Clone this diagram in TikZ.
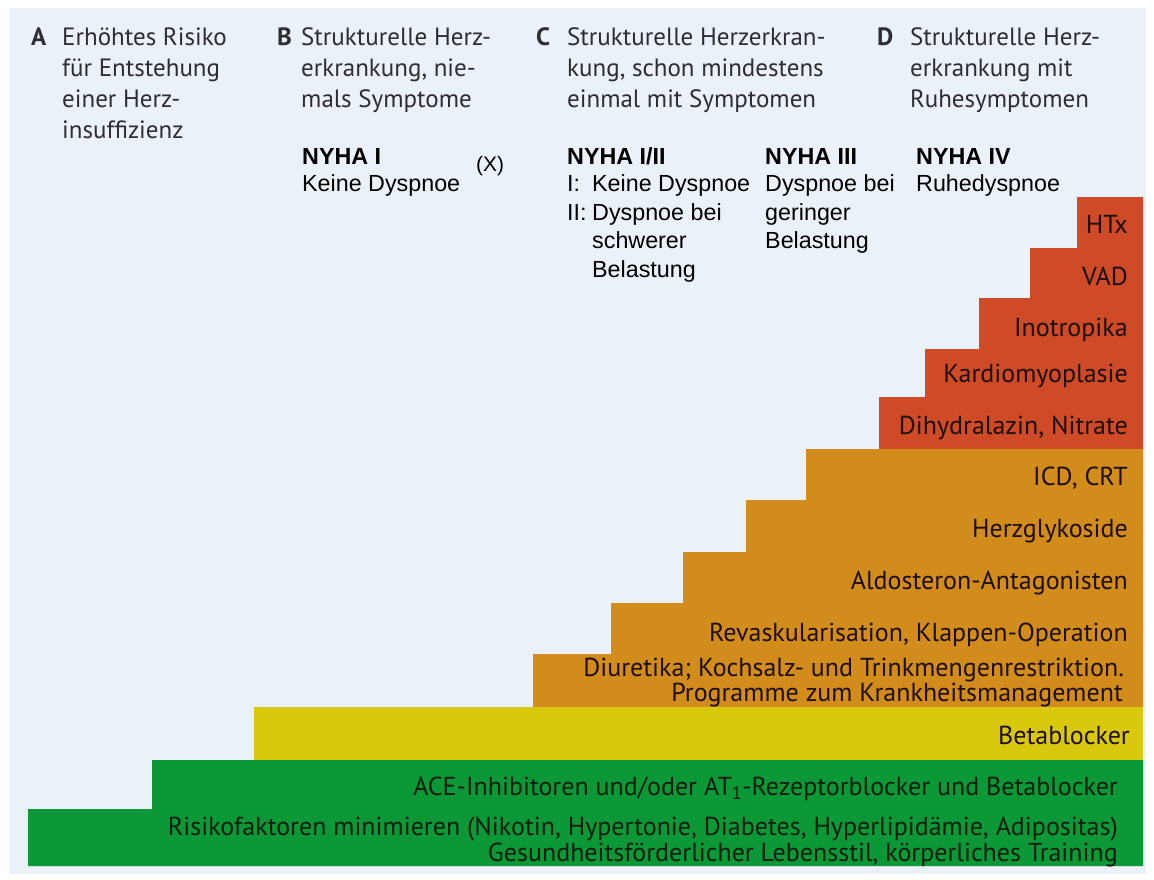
\documentclass[tikz,border=0pt]{standalone}
\usepackage{fontspec}
\setmainfont{PT Sans}
\newfontfamily\arialf{Liberation Sans}
\definecolor{bgc}{RGB}{234,241,248}
\definecolor{redc}{RGB}{207,74,38}
\definecolor{orc}{RGB}{210,140,27}
\definecolor{yelc}{RGB}{216,200,14}
\definecolor{grc}{RGB}{12,152,55}
\definecolor{hdrc}{RGB}{45,45,50}
\definecolor{txtc}{RGB}{30,15,8}
\definecolor{gtxt}{RGB}{8,30,12}
\begin{document}
\begin{tikzpicture}[x=1pt,y=-1pt,
  hdr/.style={anchor=base west, inner sep=0, font=\fontsize{25}{31}\selectfont, text=hdrc},
  lett/.style={anchor=base west, inner sep=0, font=\fontsize{25}{31}\selectfont\bfseries, text=hdrc},
  nyhab/.style={anchor=base west, inner sep=0, font=\arialf\bfseries\fontsize{23.3}{26}\selectfont, text=black},
  nyha/.style={anchor=base west, inner sep=0, font=\arialf\fontsize{23.3}{26}\selectfont, text=black},
  bar/.style={anchor=base east, inner sep=0, font=\fontsize{26}{28}\selectfont, text=txtc},
  gbar/.style={anchor=base east, inner sep=0, font=\fontsize{26}{28}\selectfont, text=gtxt}]
\useasboundingbox (0,0) rectangle (1154,879);
\fill[bgc] (9,8) rectangle (1146,874);
% stairs
\fill[redc] (879,449) -- (879,397) -- (925,397) -- (925,349) -- (979,349) -- (979,298)
  -- (1030,298) -- (1030,248) -- (1077,248) -- (1077,197) -- (1143,197) -- (1143,449) -- cycle;
\fill[orc] (533,707) -- (533,654) -- (611,654) -- (611,603) -- (683,603) -- (683,552)
  -- (746,552) -- (746,500) -- (806,500) -- (806,449) -- (1143,449) -- (1143,707) -- cycle;
\fill[yelc] (254,707) rectangle (1143,760);
\fill[grc] (28,866) -- (28,809) -- (152,809) -- (152,760) -- (1143,760) -- (1143,866) -- cycle;
% headers
\node[lett] (la) at (31,45) {A};
\node[lett] (lb) at (277,45) {B};
\node[lett] (lc) at (536,45) {C};
\node[lett] (ld) at (877,45) {D};
\foreach \t [count=\i] in {Erhöhtes Risiko, für Entstehung, einer Herz-, insuffizienz}
  \node[hdr] (a\i) at (62,{45+31*(\i-1)}) {\t};
\foreach \t [count=\i] in {Strukturelle Herz-, {erkrankung, nie-}, mals Symptome}
  \node[hdr] (b\i) at (301,{45+31*(\i-1)}) {\t};
\foreach \t [count=\i] in {Strukturelle Herzerkran-, {kung, schon mindestens}, einmal mit Symptomen}
  \node[hdr] (c\i) at (567,{45+31*(\i-1)}) {\t};
\foreach \t [count=\i] in {Strukturelle Herz-, erkrankung mit, Ruhesymptomen}
  \node[hdr] (d\i) at (910,{45+31*(\i-1)}) {\t};
% NYHA
\node[nyhab] (n1) at (302,164) {NYHA I};
\node[nyha] (n1a) at (302,191) {Keine Dyspnoe};
\node[nyha, font=\arialf\fontsize{21}{24}\selectfont] (x) at (476,171) {(X)};
\node[nyhab] (n2) at (567,164) {NYHA I/II};
\node[nyha] (n2a) at (567,191) {I:};
\node[nyha] (n2b) at (592,191) {Keine Dyspnoe};
\node[nyha] (n2c) at (567,220) {II:};
\node[nyha] (n2d) at (592,220) {Dyspnoe bei};
\node[nyha] (n2e) at (592,248) {schwerer};
\node[nyha] (n2f) at (592,277) {Belastung};
\node[nyhab] (n3) at (765,164) {NYHA III};
\node[nyha] (n3a) at (765,191) {Dyspnoe bei};
\node[nyha] (n3b) at (765,220) {geringer};
\node[nyha] (n3c) at (765,248) {Belastung};
\node[nyhab] (n4) at (916,164) {NYHA IV};
\node[nyha] (n4a) at (916,191) {Ruhedyspnoe};
% bar texts
\node[bar] (t1) at (1128,233) {HTx};
\node[bar] (t2) at (1128,285) {VAD};
\node[bar] (t3) at (1128,336) {Inotropika};
\node[bar] (t4) at (1128,382) {Kardiomyoplasie};
\node[bar] (t5) at (1128,434) {Dihydralazin, Nitrate};
\node[bar] (t6) at (1128,485) {ICD, CRT};
\node[bar] (t7) at (1128,537) {Herzglykoside};
\node[bar] (t8) at (1128,589) {Aldosteron-Antagonisten};
\node[bar] (t9) at (1128,641) {Revaskularisation, Klappen-Operation};
\node[bar] (t10) at (1124,676) {Diuretika; Kochsalz- und Trinkmengenrestriktion.};
\node[bar] (t11) at (1123,701) {Programme zum Krankheitsmanagement};
\node[bar] (t12) at (1130,744) {Betablocker};
\node[gbar] (t13) at (1118,795) {ACE-Inhibitoren und/oder AT\textsubscript{1}-Rezeptorblocker und Betablocker};
\node[gbar] (t14) at (1118,835) {Risikofaktoren minimieren (Nikotin, Hypertonie, Diabetes, Hyperlipidämie, Adipositas)};
\node[gbar] (t15) at (1118,861) {Gesundheitsförderlicher Lebensstil, körperliches Training};
\end{tikzpicture}
\end{document}
